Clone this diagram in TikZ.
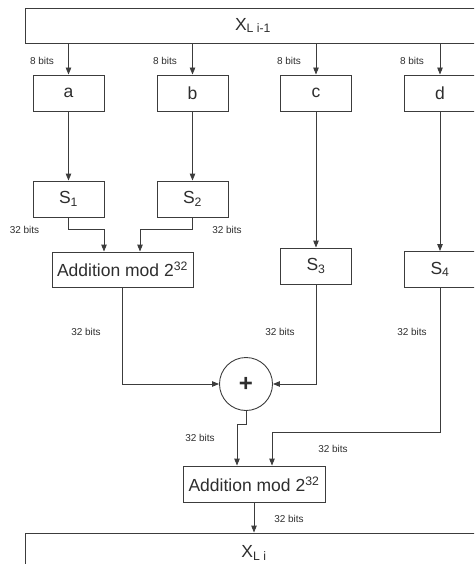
\documentclass[tikz,border=0pt]{standalone}
\usepackage{fontspec}
\setmainfont{Liberation Sans}
\usetikzlibrary{arrows.meta}
\definecolor{linegray}{HTML}{3C3C3C}
\definecolor{textgray}{HTML}{2E2E2E}
\tikzset{
    blk/.style   = {draw=linegray, fill=white, minimum width=71pt, minimum height=36pt,
                    inner sep=0pt, text=textgray, font=\fontsize{17.5}{20}\selectfont},
    wideblk/.style = {blk, minimum width=#1},
    bits/.style  = {text=textgray, inner sep=0pt, font=\fontsize{10}{12}\selectfont},
    flow/.style  = {draw=linegray, -{Triangle[length=7pt,width=5.5pt]}}
}
\begin{document}
\begin{tikzpicture}[x=1pt,y=-1pt,line width=0.9pt]
    \useasboundingbox (0,0) rectangle (474,564);
    \clip (0,0) rectangle (474,564);
    % input word and its four bytes
    \node[wideblk=456pt, minimum height=35pt] (xin) at (253,25.5) {X\textsubscript{L i-1}};
    \node[blk] (a) at (68.5,93) {a};
    \node[blk] (b) at (192.5,93) {b};
    \node[blk] (c) at (316,93) {c};
    \node[blk] (d) at (440,93) {d};
    % s-boxes
    \node[blk] (S1) at (68.5,199) {S\textsubscript{1}};
    \node[blk] (S2) at (192.5,199) {S\textsubscript{2}};
    \node[blk] (S3) at (316,266) {S\textsubscript{3}};
    \node[blk] (S4) at (440,269.5) {S\textsubscript{4}};
    % combining
    \node[wideblk=141pt, minimum height=35pt] (add1) at (122.5,269.5) {Addition mod 2\textsuperscript{32}};
    \node[draw=linegray, circle, minimum size=53pt, inner sep=0pt, text=textgray,
          font=\bfseries\fontsize{24}{26}\selectfont] (xorsum) at (246,384) {+};
    \node[wideblk=142pt] (add2) at (254,484) {Addition mod 2\textsuperscript{32}};
    \node[wideblk=458pt, minimum height=40pt] (xout) at (254,553) {X\textsubscript{L i}};

    \foreach \n in {a,b,c,d}
        \draw[flow] (xin.south -| \n) -- (\n);
    \draw[flow] (a) -- (S1);
    \draw[flow] (b) -- (S2);
    \draw[flow] (c) -- (S3);
    \draw[flow] (d) -- (S4);
    \draw[flow] (S1.south) -- ++(0,12) -| ([xshift=-18.5pt]add1.north);
    \draw[flow] (S2.south) -- ++(0,12) -| ([xshift=17.5pt]add1.north);
    \draw[flow] (add1.south) |- (xorsum.west);
    \draw[flow] (S3.south) |- (xorsum.east);
    \draw[flow] (xorsum.south) -- ++(0,13) -| ([xshift=-17pt]add2.north);
    \draw[flow] (S4.south) -- ++(0,144.5) -| ([xshift=18pt]add2.north);
    \draw[flow] (add2) -- (add2 |- xout.north);

    % widths
    \node[bits] (w8a) at (42,61) {8 bits};
    \node[bits] (w8b) at (165,61) {8 bits};
    \node[bits] (w8c) at (289,61) {8 bits};
    \node[bits] (w8d) at (412,61) {8 bits};
    \node[bits] (w1) at (24.5,230) {32 bits};
    \node[bits] (w2) at (227,230) {32 bits};
    \node[bits] (w3) at (86,332) {32 bits};
    \node[bits] (w4) at (280,332) {32 bits};
    \node[bits] (w5) at (412,332) {32 bits};
    \node[bits] (w6) at (200,438) {32 bits};
    \node[bits] (w7) at (333,449) {32 bits};
    \node[bits] (w8) at (289,519) {32 bits};
\end{tikzpicture}
\end{document}
